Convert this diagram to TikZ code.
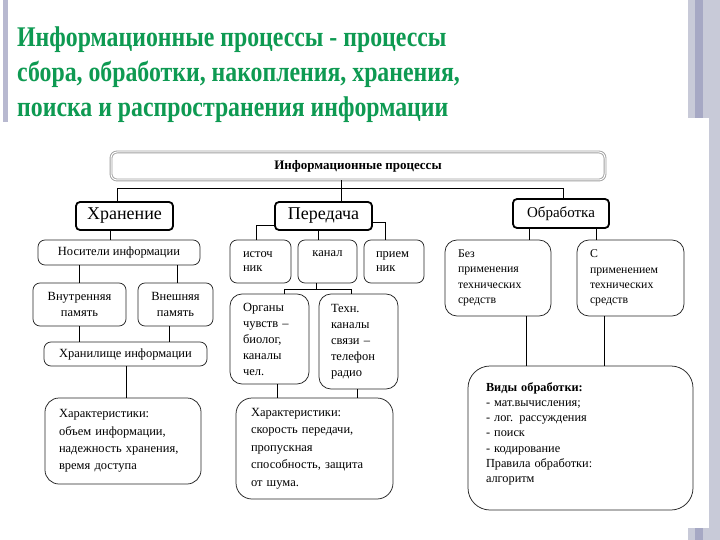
\documentclass[tikz,border=0pt]{standalone}
\usepackage{fontspec}
\setmainfont{Liberation Serif}
\newfontfamily\titlefont{Liberation Serif}[FakeStretch=0.835]
\newcommand\myfs[2]{\fontsize{#1}{#2}\selectfont}
\definecolor{titlegreen}{HTML}{0E9A52}
\definecolor{barlight}{HTML}{C8CAD8}
\definecolor{bardark}{HTML}{A6A8C4}
\begin{document}
\begin{tikzpicture}[x=1pt,y=-1pt,
  box/.style={draw=black!85, line width=0.75pt, rounded corners=7pt, fill=white,
    inner ysep=0pt, align=center, font=\myfs{12.5}{16}},
  lbox/.style={box, align=left},
  thickbox/.style={draw=black, line width=1.8pt, rounded corners=4pt, fill=white,
    inner sep=0pt, align=center},
  conn/.style={draw=black, line width=0.75pt}]
\useasboundingbox (0,0) rectangle (720,540);
\fill[white] (0,0) rectangle (720,540);
% slide decoration
\fill[bardark!80] (3,0) rectangle (8,122);
\fill[barlight] (688,0) rectangle (720,118);
\fill[bardark] (695,0) rectangle (703,118);
\fill[barlight] (709,118) rectangle (720,540);
\fill[barlight] (688,528) rectangle (720,540);
\fill[bardark] (695,528) rectangle (703,540);
% title
\node[anchor=north west, align=left, text=titlegreen, inner sep=0pt,
  font=\titlefont\bfseries\myfs{28.5}{35}] (title) at (17,27)
  {Информационные процессы - процессы\\
   сбора, обработки, накопления, хранения,\\
   поиска и распространения информации};
% top
\node[draw=gray!75, double=white, double distance=1pt, line width=0.9pt, rounded corners=6pt,
  minimum width=494pt, minimum height=28pt, inner sep=0pt, font=\bfseries\myfs{13}{15}]
  (top) at (358,166) {Информационные процессы};
% level 1
\node[thickbox, minimum width=97pt, minimum height=28pt, font=\myfs{18}{20}] (hran) at (124.5,216) {Хранение};
\node[thickbox, minimum width=97pt, minimum height=28pt, font=\myfs{18}{20}] (per) at (323.5,216) {Передача};
\node[thickbox, minimum width=96pt, minimum height=29pt, font=\myfs{15}{17}] (obr) at (561,213.5) {Обработка};
% storage column
\node[box, minimum width=162pt, minimum height=25pt] (nos) at (119,252.5) {Носители информации};
\node[box, minimum width=93pt, minimum height=43pt] (vnut) at (79.5,304.5) {Внутренняя\\память};
\node[box, minimum width=75pt, minimum height=43pt] (vnesh) at (175.5,304.5) {Внешняя\\память};
\node[box, minimum width=163pt, minimum height=24pt] (chr) at (125.5,354) {Хранилище информации};
\node[lbox, rounded corners=14pt, inner xsep=14pt, text width=128pt, minimum height=86pt,
  font=\myfs{12.5}{17.3}] (char1) at (123,441)
  {Характеристики:\\объем информации,\\надежность хранения,\\время доступа};
% transfer column
\node[lbox, inner xsep=13pt, text width=35pt, minimum height=43pt, font=\myfs{12.5}{14}] (ist) at (260.5,261.5) {источ\\ник};
\node[box, minimum width=59pt, minimum height=43pt, font=\myfs{12.5}{14}] (kanal) at (327.5,261.5) {канал\\[1pt]\mbox{}};
\node[lbox, inner xsep=12pt, text width=36pt, minimum height=43pt, font=\myfs{12.5}{14}] (priem) at (394,261.5) {прием\\ник};
\node[lbox, rounded corners=12pt, inner xsep=13pt, text width=53pt, minimum height=90pt] (org) at (269.5,339)
  {Органы\\чувств –\\биолог,\\каналы\\чел.};
\node[lbox, rounded corners=12pt, inner xsep=12pt, text width=55pt, minimum height=95pt] (tech) at (358.5,341.5)
  {Техн.\\каналы\\связи –\\телефон\\радио};
\node[lbox, rounded corners=16pt, inner xsep=15pt, text width=127pt, minimum height=101pt,
  font=\myfs{12.5}{17.5}] (char2) at (314.5,448.5)
  {Характеристики:\\скорость передачи,\\пропускная\\способность, защита\\от шума.};
% processing column
\node[lbox, rounded corners=12pt, inner xsep=13pt, text width=80pt, minimum height=76pt,
  font=\myfs{11.8}{15.3}] (bez) at (498,278)
  {Без\\применения\\технических\\средств};
\node[lbox, rounded corners=12pt, inner xsep=13pt, text width=81pt, minimum height=76pt,
  font=\myfs{11.8}{15.3}] (spr) at (630.5,278)
  {С\\применением\\технических\\средств};
\node[lbox, rounded corners=22pt, inner xsep=18pt, text width=189pt, minimum height=144pt,
  font=\myfs{12.3}{15.2}] (vidy) at (580.5,438)
  {\textbf{Виды обработки:}\\- мат.вычисления;\\- лог. рассуждения\\- поиск\\- кодирование\\Правила обработки:\\алгоритм\\[-4pt]\mbox{}};
% connectors
\coordinate (bus) at (0,188);
\draw[conn] ([xshift=-7.5pt]hran.north) -- ([xshift=-7.5pt]hran.north |- bus) -- ([xshift=2pt]obr.north |- bus) -- ([xshift=2pt]obr.north);
\draw[conn] ([xshift=-17pt]top.south) -- ([xshift=-17pt]top.south |- per.north);
\draw[conn] (nos.north -| 110,0) -- (hran.south -| 110,0);
\draw[conn] (vnut.north -| 79,0) -- (nos.south -| 79,0);
\draw[conn] (vnesh.north -| 177,0) -- (nos.south -| 177,0);
\draw[conn] (vnut.south -| 79,0) -- (chr.north -| 79,0);
\draw[conn] (vnesh.south -| 169,0) -- (chr.north -| 169,0);
\draw[conn] (chr.south -| 126,0) -- (char1.north -| 126,0);
\draw[conn] ([yshift=-9pt]per.west) -| (ist.north -| 256,0);
\draw[conn] ([yshift=-6pt]per.east) -| (priem.north -| 385,0);
\draw[conn] (per.south -| 318,0) -- (kanal.north -| 318,0);
\draw[conn] (kanal.south -| 316,0) -- (316,289);
\draw[conn] (org.north -| 284,0) -- (284,289) -- (351,289) -- (tech.north -| 351,0);
\draw[conn] (org.south -| 277,0) -- (char2.north -| 277,0);
\draw[conn] (tech.south -| 357,0) -- (char2.north -| 357,0);
\draw[conn] (obr.south -| 529,0) -- (bez.north -| 529,0);
\draw[conn] (obr.south -| 596,0) -- (spr.north -| 596,0);
\draw[conn] (bez.south -| 526,0) -- (vidy.north -| 526,0);
\draw[conn] (spr.south -| 604,0) -- (vidy.north -| 604,0);
\end{tikzpicture}
\end{document}
